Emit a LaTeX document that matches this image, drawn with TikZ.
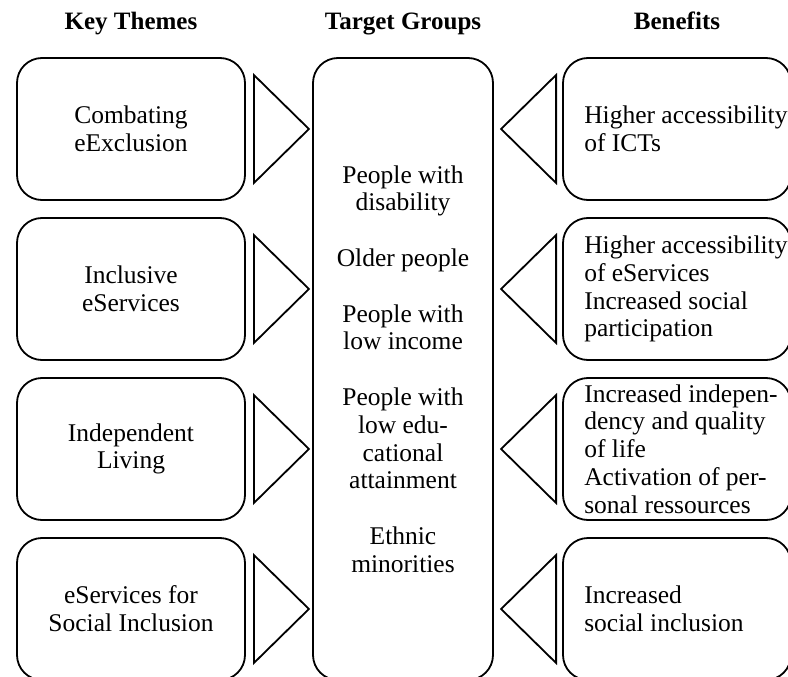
\documentclass[tikz,border=0pt]{standalone}
\usepackage{fontspec}
\setmainfont{Liberation Serif}
\usetikzlibrary{positioning,calc}

\tikzset{
  txt/.style={font=\fontsize{25.5}{27.8}\selectfont, inner sep=0pt},
  head/.style={font=\fontsize{25}{27.8}\selectfont\bfseries, inner sep=0pt, anchor=base},
  card/.style={draw, line width=1.8pt, rounded corners=25pt, minimum width=228pt, minimum height=142pt, inner sep=0pt},
  tri/.style={draw, line width=1.8pt, line join=miter},
}

\begin{document}
\begin{tikzpicture}[x=1pt, y=-1pt]
%frame
\useasboundingbox (0,0) rectangle (788,677);
\clip (0,0) rectangle (788,677);

%headings
\node[head] (hkey) at (131,30) {Key Themes};
\node[head] (hgrp) at (403,30) {Target Groups};
\node[head] (hben) at (677,30) {Benefits};

%key themes
\node[card, txt, align=center] (key1) at (131,129) {Combating\\eExclusion};
\node[card, txt, align=center] (key2) at (131,289) {Inclusive\\eServices};
\node[card, txt, align=center] (key3) at (131,449) {Independent\\Living};
\node[card, txt, align=center] (key4) at (131,609) {eServices for\\Social Inclusion};

%target groups
\node[card, txt, align=center, minimum width=180pt, minimum height=622pt] (grp) at (403,369)
  {People with\\disability\\[27.8pt]Older people\\[27.8pt]People with\\low income\\[27.8pt]People with\\low edu-\\cational\\attainment\\[27.8pt]Ethnic\\minorities};

%benefits
\node[card] (ben1) at (677,129) {};
\node[card] (ben2) at (677,289) {};
\node[card] (ben3) at (677,449) {};
\node[card] (ben4) at (677,609) {};
\node[txt, align=left, right=22pt of ben1.west] (bt1) {Higher accessibility\\of ICTs};
\node[txt, align=left, right=22pt of ben2.west] (bt2) {Higher accessibility\\of eServices\\Increased social\\participation};
\node[txt, align=left, right=22pt of ben3.west] (bt3) {Increased indepen-\\dency and quality\\of life\\Activation of per-\\sonal ressources};
\node[txt, align=left, right=22pt of ben4.west] (bt4) {Increased\\social inclusion};

%triangles
\foreach \i in {1,...,4}{
  \draw[tri] ($(key\i.east)+(8,-54)$) -- ($(key\i.east)+(63,0)$) -- ($(key\i.east)+(8,54)$) -- cycle;
  \draw[tri] ($(ben\i.west)+(-6,-54)$) -- ($(ben\i.west)+(-61,0)$) -- ($(ben\i.west)+(-6,54)$) -- cycle;
}
\end{tikzpicture}
\end{document}
